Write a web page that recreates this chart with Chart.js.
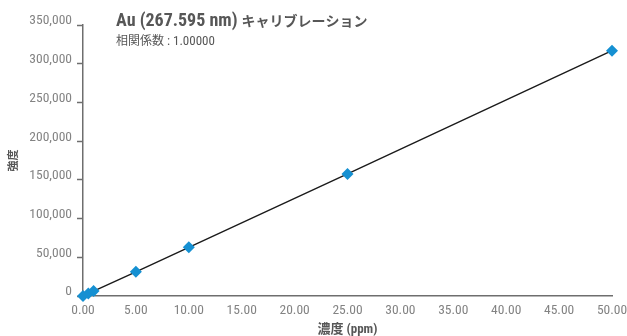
<!DOCTYPE html>
<html lang="ja">
<head>
<meta charset="utf-8">
<title>Au (267.595 nm) キャリブレーション</title>
<script src="https://cdn.jsdelivr.net/npm/chart.js@4/dist/chart.umd.min.js"></script>
<style>
  html, body { margin: 0; padding: 0; background: #ffffff; }
  #wrap { position: relative; width: 627px; height: 336px; }
</style>
</head>
<body>
<div id="wrap"><canvas id="cal" width="627" height="336"></canvas></div>
<script>
// Calibration standards: concentration (ppm) and measured intensity
const concentrations = [0, 0.5, 1.0, 5.0, 10.0, 25.0, 50.0];
const intensities = [0, 3100, 6300, 31300, 62900, 157600, 316900];

// Axis tick values
const xTicks = [0, 5, 10, 15, 20, 25, 30, 35, 40, 45, 50];
const yTicks = [0, 50000, 100000, 150000, 200000, 250000, 300000, 350000];

// Header and axis text
const titleLatin = 'Au (267.595 nm) ';
const titleKana = 'キャリブレーション';
const subtitleLabel = '相関係数';
const subtitleValue = ' : 1.00000';
const xTitle = '濃度 (ppm)';
const yTitle = '強度';

// Prefer a condensed face for Latin text; fall back to Roboto at smaller sizes
function fontAvailable(name) {
  const c = document.createElement('canvas').getContext('2d');
  const probe = 'mmmwwwlli 0123456789';
  return ['monospace', 'serif'].some(base => {
    c.font = '40px ' + base;
    const w0 = c.measureText(probe).width;
    c.font = '40px "' + name + '", ' + base;
    return Math.abs(c.measureText(probe).width - w0) > 0.5;
  });
}
const condensed = fontAvailable('Roboto Condensed') ? 'Roboto Condensed'
  : (fontAvailable('Liberation Sans Narrow') ? 'Liberation Sans Narrow' : null);
const LATIN = '"' + (condensed || 'Roboto') + '", "Noto Sans CJK JP", sans-serif';
const CJK = '"Noto Sans CJK JP", sans-serif';
const SIZE = condensed
  ? { tick: 13.5, title: 18, sub: 13, axis: 13 }
  : { tick: 12, title: 15.7, sub: 12, axis: 11.5 };

const TICK_COLOR = '#838383';
const AXIS_COLOR = '#6e6e6e';
const TEXT_DARK = '#575757';

const points = concentrations.map((c, i) => ({ x: c, y: intensities[i] }));

// Heading and correlation coefficient in the upper left of the plot
const headerPlugin = {
  id: 'header',
  afterDraw(chart) {
    const ctx = chart.ctx;
    const x0 = chart.chartArea.left + 33;
    ctx.save();
    ctx.textBaseline = 'alphabetic';
    ctx.textAlign = 'left';
    ctx.fillStyle = TEXT_DARK;

    let x = x0;
    ctx.font = 'bold ' + SIZE.title + 'px ' + LATIN;
    ctx.fillText(titleLatin, x, 26);
    x += ctx.measureText(titleLatin).width;
    ctx.font = 'bold 14px ' + CJK;
    ctx.fillText(titleKana, x, 26);

    x = x0;
    ctx.font = '12px ' + CJK;
    ctx.fillText(subtitleLabel, x, 44.5);
    x += ctx.measureText(subtitleLabel).width;
    ctx.font = SIZE.sub + 'px ' + LATIN;
    ctx.fillText(subtitleValue, x, 44.5);
    ctx.restore();
  }
};

new Chart(document.getElementById('cal'), {
  type: 'scatter',
  data: {
    datasets: [{
      data: points,
      showLine: true,
      clip: false,
      borderColor: '#1a1a1a',
      borderWidth: 1.4,
      tension: 0,
      pointStyle: 'rectRot',
      pointRadius: 6,
      pointHoverRadius: 6,
      pointBackgroundColor: '#1590d2',
      pointBorderColor: '#1590d2',
      pointBorderWidth: 0
    }]
  },
  options: {
    responsive: false,
    animation: false,
    events: [],
    layout: { padding: { top: 25, right: 0, left: 0, bottom: 0 } },
    plugins: {
      legend: { display: false },
      tooltip: { enabled: false },
      title: { display: false }
    },
    scales: {
      x: {
        type: 'linear',
        min: 0,
        max: 50,
        afterBuildTicks(scale) { scale.ticks = xTicks.map(v => ({ value: v })); },
        afterFit(scale) {
          scale.height = 40;
          scale.paddingLeft = 0;
          scale.paddingRight = 15;
        },
        border: { display: true, color: AXIS_COLOR, width: 1.5 },
        grid: { display: true, drawOnChartArea: false, drawTicks: false },
        ticks: {
          color: TICK_COLOR,
          padding: 7,
          maxRotation: 0,
          font: { family: LATIN, size: SIZE.tick },
          callback: v => Number(v).toFixed(2)
        },
        title: {
          display: true,
          text: xTitle,
          color: TEXT_DARK,
          font: { family: LATIN, size: SIZE.axis, weight: 'bold' },
          padding: { top: 0, bottom: -2 }
        }
      },
      y: {
        type: 'linear',
        min: 0,
        max: 350000,
        afterBuildTicks(scale) { scale.ticks = yTicks.map(v => ({ value: v })); },
        afterFit(scale) { scale.width = 83; },
        border: { display: true, color: AXIS_COLOR, width: 1.5 },
        grid: {
          display: true,
          drawOnChartArea: false,
          drawTicks: true,
          tickLength: 6,
          tickColor: AXIS_COLOR,
          tickWidth: 1.5
        },
        ticks: {
          color: TICK_COLOR,
          padding: 5,
          labelOffset: -4,
          font: { family: LATIN, size: SIZE.tick },
          callback: v => Number(v).toLocaleString('en-US')
        },
        title: {
          display: true,
          text: yTitle,
          color: TEXT_DARK,
          font: { family: CJK, size: 11, weight: 'bold' },
          padding: { top: 6, bottom: 0 }
        }
      }
    }
  },
  plugins: [headerPlugin]
});
</script>
</body>
</html>
